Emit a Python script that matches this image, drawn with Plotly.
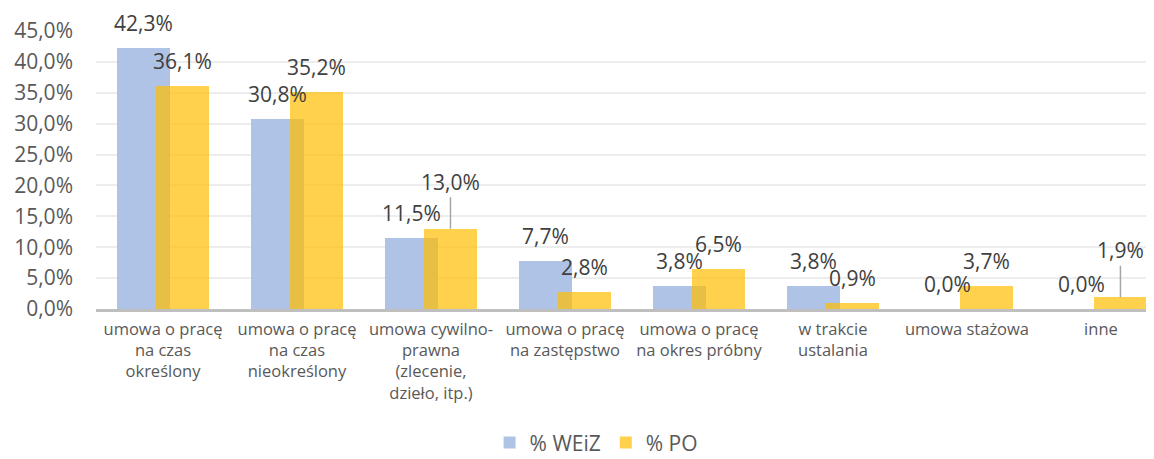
import plotly.graph_objects as go

# ---- data ----
categories = [
    "umowa o pracę na czas określony",
    "umowa o pracę na czas nieokreślony",
    "umowa cywilno-prawna (zlecenie, dzieło, itp.)",
    "umowa o pracę na zastępstwo",
    "umowa o pracę na okres próbny",
    "w trakcie ustalania",
    "umowa stażowa",
    "inne",
]
tick_labels = [
    "umowa o pracę<br>na czas<br>określony",
    "umowa o pracę<br>na czas<br>nieokreślony",
    "umowa cywilno-<br>prawna<br>(zlecenie,<br>dzieło, itp.)",
    "umowa o pracę<br>na zastępstwo",
    "umowa o pracę<br>na okres próbny",
    "w trakcie<br>ustalania",
    "umowa stażowa",
    "inne",
]
series_names = ["% WEiZ", "% PO"]
weiz = [42.3, 30.8, 11.5, 7.7, 3.8, 3.8, 0.0, 0.0]
po = [36.1, 35.2, 13.0, 2.8, 6.5, 0.9, 3.7, 1.9]
y_ticks = [0, 5, 10, 15, 20, 25, 30, 35, 40, 45]

# ---- style ----
FONT = "Open Sans"
BLUE = "#AFC3E6"
YELLOW = "rgba(255,190,0,0.70)"
LABEL_COLOR = "#404040"
TICK_COLOR = "#595959"
BAR_W = 0.395
OFFS = [-0.343, -0.052]
LEADER = {1: {2, 7}}  # series index -> categories with leader lines

def fmt(v):
    return f"{v:.1f}".replace(".", ",") + "%"

idx = list(range(len(categories)))
fig = go.Figure()
for s, (name, vals, col) in enumerate(zip(series_names, [weiz, po], [BLUE, YELLOW])):
    fig.add_trace(go.Bar(
        x=idx, y=vals, name=name, width=BAR_W, offset=OFFS[s],
        marker=dict(color=col, line=dict(width=0)),
        hovertext=categories,
    ))

annotations = []
for s, vals in enumerate([weiz, po]):
    for i, v in enumerate(vals):
        xc = i + OFFS[s] + BAR_W / 2
        if i in LEADER.get(s, set()):
            annotations.append(dict(
                x=xc, y=v, xref="x", yref="y", text=fmt(v),
                showarrow=True, arrowhead=0, arrowwidth=1.5, arrowcolor="#A6A6A6",
                ax=0, ay=-47, standoff=0,
                font=dict(family=FONT, size=21, color=LABEL_COLOR),
            ))
        else:
            annotations.append(dict(
                x=xc, y=v, xref="x", yref="y", text=fmt(v), showarrow=False,
                yanchor="middle", yshift=25,
                font=dict(family=FONT, size=21, color=LABEL_COLOR),
            ))

# the page body has an 8px default margin; size the figure to fill the rest
fig.update_layout(
    width=1146, height=451,
    margin=dict(l=88, r=0, t=23, b=150, autoexpand=False),
    barmode="overlay",
    bargap=0,
    plot_bgcolor="white", paper_bgcolor="white",
    font=dict(family=FONT, color=TICK_COLOR),
    annotations=annotations,
    showlegend=True,
    legend=dict(
        orientation="h", x=0.372, xanchor="left", y=-0.555, yanchor="bottom",
        font=dict(family=FONT, size=21, color=TICK_COLOR),
        itemwidth=30, traceorder="normal",
    ),
    xaxis=dict(
        range=[-0.5, 7.396],
        tickvals=idx, ticktext=tick_labels,
        tickfont=dict(family=FONT, size=16.5, color=TICK_COLOR),
        showgrid=False, showline=True, linecolor="#BFBFBF", linewidth=2.5,
        ticks="", ticklabelstandoff=3, zeroline=False, automargin=False,
    ),
    yaxis=dict(
        range=[0, 45],
        tickvals=y_ticks, ticktext=[fmt(t) for t in y_ticks],
        tickfont=dict(family=FONT, size=21, color=TICK_COLOR),
        showgrid=True, gridcolor="#EDEDED", gridwidth=1.5,
        zeroline=False, showline=False, ticks="", ticklabelstandoff=22,
        automargin=False,
    ),
)

fig.write_html("out.html")
